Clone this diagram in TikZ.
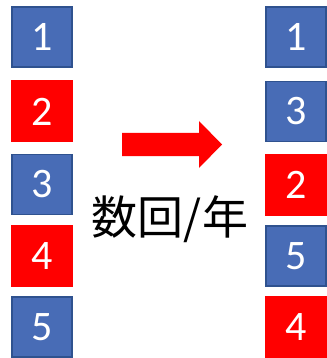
\documentclass[tikz,border=0pt]{standalone}
\usepackage{fontspec}
\setmainfont{Carlito}
\newfontfamily\cjk{Noto Sans CJK JP}
\definecolor{bluebox}{RGB}{72,108,182}
\definecolor{blueedge}{RGB}{47,82,143}
\begin{document}
\begin{tikzpicture}[x=1pt,y=-1pt,
  bbox/.style={draw=blueedge,line width=1.5pt,fill=bluebox,minimum width=60pt,minimum height=60pt,inner sep=0pt,text=white,font=\fontsize{42}{42}\selectfont},
  rbox/.style={fill=red,minimum width=62pt,minimum height=62pt,inner sep=0pt,text=white,font=\fontsize{42}{42}\selectfont}]
\useasboundingbox (0,0) rectangle (326,358);
% left column
\node[bbox] (l1) at (42,37) {1};
\node[rbox] (l2) at (42,111.5) {2};
\node[bbox] (l3) at (42,184.5) {3};
\node[rbox] (l4) at (42,256) {4};
\node[bbox] (l5) at (42,327) {5};
% right column
\node[bbox] (r1) at (296,37) {1};
\node[bbox] (r3) at (296,111.5) {3};
\node[rbox] (r2) at (296,184.5) {2};
\node[bbox] (r5) at (296,256) {5};
\node[rbox] (r4) at (296,327) {4};
% arrow
\fill[red] (122,133) -- (199,133) -- (199,121) -- (222,144.5) -- (199,168) -- (199,156) -- (122,156) -- cycle;
\node (lbl) at (170,219) {\cjk\fontsize{46}{46}\selectfont 数回/年};
\end{tikzpicture}
\end{document}
